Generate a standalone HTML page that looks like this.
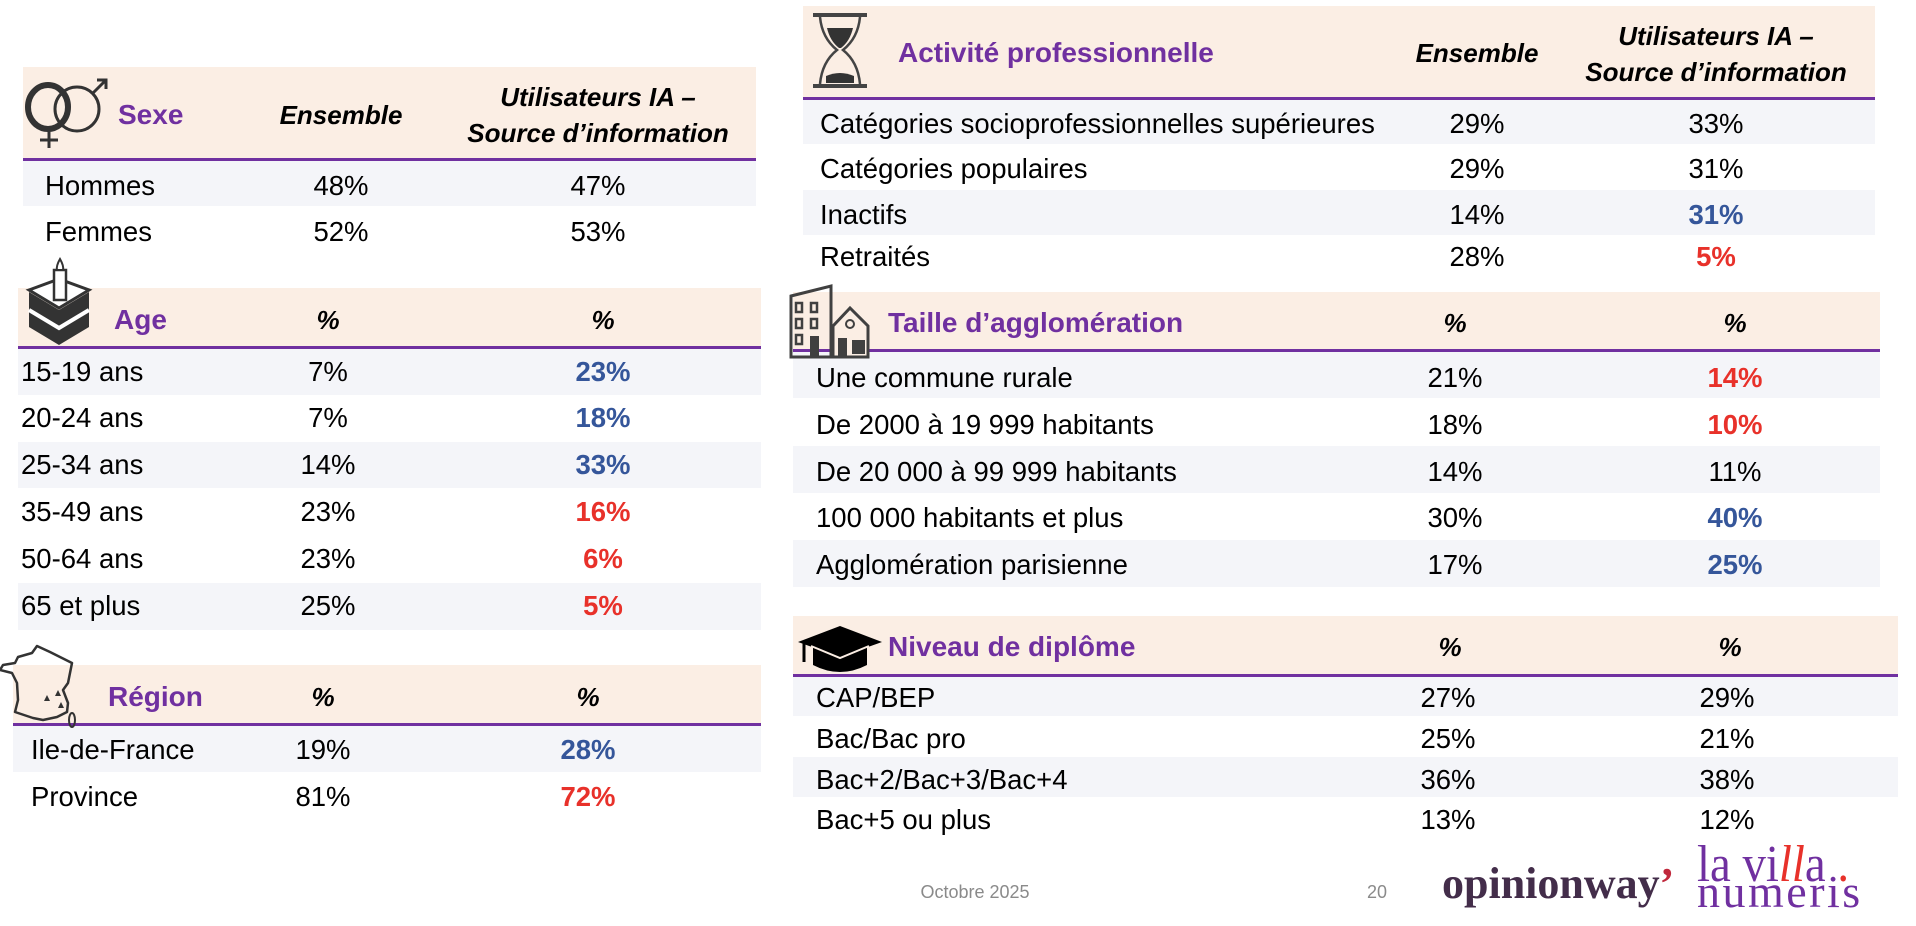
<!DOCTYPE html>
<html><head><meta charset="utf-8">
<style>
html,body{margin:0;padding:0;background:#fff;}
body{width:1916px;height:926px;position:relative;overflow:hidden;font-family:"Liberation Sans",Arial,sans-serif;}
.bg{position:absolute;background:#fbeee4;}
.ln{position:absolute;background:#7030a0;height:3px;}
.st{position:absolute;background:#f4f5f9;}
.t{position:absolute;font-size:27.5px;line-height:40px;height:40px;white-space:nowrap;color:#000;}
.c{width:200px;text-align:center;}
.w{width:400px;text-align:center;}
.h{font-weight:bold;color:#7030a0;font-size:28px;}
.ch{font-weight:bold;font-style:italic;font-size:26px;}
.bl{color:#35569a;font-weight:bold;}
.rd{color:#e8312a;font-weight:bold;}
</style></head><body>

<!-- LEFT: Sexe -->
<div class="bg" style="left:23px;top:67px;width:733px;height:92px"></div>
<div class="ln" style="left:23px;top:158px;width:733px"></div>
<div class="st" style="left:23px;top:161px;width:733px;height:45px"></div>

<!-- Age -->
<div class="bg" style="left:18px;top:288px;width:743px;height:59px"></div>
<div class="ln" style="left:18px;top:346px;width:743px"></div>
<div class="st" style="left:18px;top:349px;width:743px;height:46px"></div>
<div class="st" style="left:18px;top:442px;width:743px;height:46px"></div>
<div class="st" style="left:18px;top:583px;width:743px;height:47px"></div>

<!-- Region -->
<div class="bg" style="left:13px;top:665px;width:748px;height:59px"></div>
<div class="ln" style="left:13px;top:723px;width:748px"></div>
<div class="st" style="left:13px;top:726px;width:748px;height:46px"></div>

<!-- RIGHT: Activité -->
<div class="bg" style="left:803px;top:6px;width:1072px;height:92px"></div>
<div class="ln" style="left:803px;top:97px;width:1072px"></div>
<div class="st" style="left:803px;top:100px;width:1072px;height:44px"></div>
<div class="st" style="left:803px;top:190px;width:1072px;height:45px"></div>

<!-- Taille -->
<div class="bg" style="left:793px;top:292px;width:1087px;height:58px"></div>
<div class="ln" style="left:793px;top:349px;width:1087px"></div>
<div class="st" style="left:793px;top:352px;width:1087px;height:46px"></div>
<div class="st" style="left:793px;top:446px;width:1087px;height:47px"></div>
<div class="st" style="left:793px;top:540px;width:1087px;height:47px"></div>

<!-- Niveau -->
<div class="bg" style="left:793px;top:616px;width:1105px;height:58px"></div>
<div class="ln" style="left:793px;top:674px;width:1105px"></div>
<div class="st" style="left:793px;top:677px;width:1105px;height:39px"></div>
<div class="st" style="left:793px;top:757px;width:1105px;height:40px"></div>

<!-- ICONS -->
<svg style="position:absolute;left:0;top:0" width="1916" height="926" viewBox="0 0 1916 926">
  <!-- sexe -->
  <ellipse cx="48" cy="107" rx="20" ry="22" fill="none" stroke="#333" stroke-width="6"/>
  <line x1="49" y1="130" x2="49" y2="148" stroke="#333" stroke-width="3"/>
  <line x1="40" y1="140" x2="58" y2="140" stroke="#333" stroke-width="3"/>
  <circle cx="77" cy="109" r="22" fill="none" stroke="#333" stroke-width="3"/>
  <line x1="93" y1="93" x2="105" y2="81" stroke="#333" stroke-width="3"/>
  <polyline points="97,80 106,80 106,89" fill="none" stroke="#333" stroke-width="3"/>
  <!-- cake -->
  <polygon points="29,290 59,279 89,290 59,308" fill="#fff" stroke="#333" stroke-width="3"/>
  <polygon points="29,292 59,310 89,292 89,327 59,345 29,327" fill="#333"/>
  <polyline points="29,310 59,328 89,310" fill="none" stroke="#fff" stroke-width="4"/>
  <rect x="54" y="270" width="12" height="30" fill="#fff" stroke="#333" stroke-width="2.5"/>
  <path d="M60,259 Q56,266 57,270 L63,270 Q64,266 60,259Z" fill="#fff" stroke="#333" stroke-width="2"/>
  <!-- france -->
  <path d="M37,646 L50,652 L72,663 L68,683 L63,690 L68,703 L67,712 L57,717 L43,720 L33,718 L15,712 L18,700 L17,683 L12,673 L0,670 L3,665 L15,663 L18,657 L32,653 Z" fill="none" stroke="#333" stroke-width="2.5" stroke-linejoin="round"/>
  <ellipse cx="72" cy="720" rx="3" ry="7" fill="none" stroke="#333" stroke-width="2"/>
  <polygon points="47,695 44,701 50,701" fill="#333"/>
  <polygon points="58,690 55,696 61,696" fill="#333"/>
  <polygon points="61,702 58,708 64,708" fill="#333"/>
  <!-- hourglass -->
  <rect x="813" y="13" width="54" height="4" fill="#444"/>
  <rect x="813" y="84" width="54" height="4" fill="#444"/>
  <path d="M820,17 Q822,38 837,50 Q822,62 820,84" fill="none" stroke="#444" stroke-width="2.5"/>
  <path d="M860,17 Q858,38 843,50 Q858,62 860,84" fill="none" stroke="#444" stroke-width="2.5"/>
  <path d="M827,28 Q830,41 839,48 L841,48 Q850,41 853,28 Z" fill="#333"/>
  <path d="M826,76 Q840,70 854,76 L854,83 L826,83 Z" fill="#333"/>
  <!-- building -->
  <path d="M791,296 L831,286 L831,357 L791,357 Z" fill="none" stroke="#404040" stroke-width="3"/>
  <rect x="796" y="303" width="6" height="9" fill="none" stroke="#404040" stroke-width="2.5"/>
  <rect x="811" y="303" width="6" height="9" fill="none" stroke="#404040" stroke-width="2.5"/>
  <rect x="796" y="319" width="6" height="9" fill="none" stroke="#404040" stroke-width="2.5"/>
  <rect x="811" y="319" width="6" height="9" fill="none" stroke="#404040" stroke-width="2.5"/>
  <rect x="796" y="335" width="6" height="9" fill="none" stroke="#404040" stroke-width="2.5"/>
  <rect x="810" y="336" width="9" height="21" fill="#404040"/>
  <path d="M833,326 L850,308 L868,326 L868,357 L833,357 Z" fill="#fbeee4" stroke="#404040" stroke-width="3"/>
  <circle cx="850" cy="324" r="4" fill="none" stroke="#404040" stroke-width="2"/>
  <rect x="838" y="338" width="9" height="19" fill="#404040"/>
  <rect x="852" y="340" width="13" height="14" fill="#404040"/>
  <!-- mortarboard -->
  <path d="M813,645 L840,656 L867,645 L867,665 Q840,679 813,665 Z" fill="#000"/>
  <polygon points="798,642 840,626 882,642 840,657" fill="#000"/>
  <polyline points="811,646 840,658 869,646" fill="none" stroke="#fbeee4" stroke-width="2"/>
  <line x1="804" y1="642" x2="804" y2="662" stroke="#000" stroke-width="3"/>
</svg>

<!-- TEXT LEFT: Sexe -->
<div class="t h" style="left:118px;top:95px">Sexe</div>
<div class="t ch c" style="left:241px;top:95px">Ensemble</div>
<div class="t ch w" style="left:398px;top:77px">Utilisateurs IA –</div>
<div class="t ch w" style="left:398px;top:113px">Source d’information</div>
<div class="t" style="left:45px;top:166px">Hommes</div>
<div class="t c" style="left:241px;top:166px">48%</div>
<div class="t c" style="left:498px;top:166px">47%</div>
<div class="t" style="left:45px;top:212px">Femmes</div>
<div class="t c" style="left:241px;top:212px">52%</div>
<div class="t c" style="left:498px;top:212px">53%</div>

<!-- Age -->
<div class="t h" style="left:114px;top:300px">Age</div>
<div class="t ch c" style="left:228px;top:300px">%</div>
<div class="t ch c" style="left:503px;top:300px">%</div>
<div class="t" style="left:21px;top:352px">15-19 ans</div>
<div class="t c" style="left:228px;top:352px">7%</div>
<div class="t c bl" style="left:503px;top:352px">23%</div>
<div class="t" style="left:21px;top:398px">20-24 ans</div>
<div class="t c" style="left:228px;top:398px">7%</div>
<div class="t c bl" style="left:503px;top:398px">18%</div>
<div class="t" style="left:21px;top:445px">25-34 ans</div>
<div class="t c" style="left:228px;top:445px">14%</div>
<div class="t c bl" style="left:503px;top:445px">33%</div>
<div class="t" style="left:21px;top:492px">35-49 ans</div>
<div class="t c" style="left:228px;top:492px">23%</div>
<div class="t c rd" style="left:503px;top:492px">16%</div>
<div class="t" style="left:21px;top:539px">50-64 ans</div>
<div class="t c" style="left:228px;top:539px">23%</div>
<div class="t c rd" style="left:503px;top:539px">6%</div>
<div class="t" style="left:21px;top:586px">65 et plus</div>
<div class="t c" style="left:228px;top:586px">25%</div>
<div class="t c rd" style="left:503px;top:586px">5%</div>

<!-- Region -->
<div class="t h" style="left:108px;top:677px">Région</div>
<div class="t ch c" style="left:223px;top:677px">%</div>
<div class="t ch c" style="left:488px;top:677px">%</div>
<div class="t" style="left:31px;top:730px">Ile-de-France</div>
<div class="t c" style="left:223px;top:730px">19%</div>
<div class="t c bl" style="left:488px;top:730px">28%</div>
<div class="t" style="left:31px;top:777px">Province</div>
<div class="t c" style="left:223px;top:777px">81%</div>
<div class="t c rd" style="left:488px;top:777px">72%</div>

<!-- RIGHT: Activité -->
<div class="t h" style="left:898px;top:33px">Activité professionnelle</div>
<div class="t ch c" style="left:1377px;top:33px">Ensemble</div>
<div class="t ch w" style="left:1516px;top:16px">Utilisateurs IA –</div>
<div class="t ch w" style="left:1516px;top:52px">Source d’information</div>
<div class="t" style="left:820px;top:104px">Catégories socioprofessionnelles supérieures</div>
<div class="t c" style="left:1377px;top:104px">29%</div>
<div class="t c" style="left:1616px;top:104px">33%</div>
<div class="t" style="left:820px;top:149px">Catégories populaires</div>
<div class="t c" style="left:1377px;top:149px">29%</div>
<div class="t c" style="left:1616px;top:149px">31%</div>
<div class="t" style="left:820px;top:195px">Inactifs</div>
<div class="t c" style="left:1377px;top:195px">14%</div>
<div class="t c bl" style="left:1616px;top:195px">31%</div>
<div class="t" style="left:820px;top:237px">Retraités</div>
<div class="t c" style="left:1377px;top:237px">28%</div>
<div class="t c rd" style="left:1616px;top:237px">5%</div>

<!-- Taille -->
<div class="t h" style="left:888px;top:303px">Taille d’agglomération</div>
<div class="t ch c" style="left:1355px;top:303px">%</div>
<div class="t ch c" style="left:1635px;top:303px">%</div>
<div class="t" style="left:816px;top:358px">Une commune rurale</div>
<div class="t c" style="left:1355px;top:358px">21%</div>
<div class="t c rd" style="left:1635px;top:358px">14%</div>
<div class="t" style="left:816px;top:405px">De 2000 à 19 999 habitants</div>
<div class="t c" style="left:1355px;top:405px">18%</div>
<div class="t c rd" style="left:1635px;top:405px">10%</div>
<div class="t" style="left:816px;top:452px">De 20 000 à 99 999 habitants</div>
<div class="t c" style="left:1355px;top:452px">14%</div>
<div class="t c" style="left:1635px;top:452px">11%</div>
<div class="t" style="left:816px;top:498px">100 000 habitants et plus</div>
<div class="t c" style="left:1355px;top:498px">30%</div>
<div class="t c bl" style="left:1635px;top:498px">40%</div>
<div class="t" style="left:816px;top:545px">Agglomération parisienne</div>
<div class="t c" style="left:1355px;top:545px">17%</div>
<div class="t c bl" style="left:1635px;top:545px">25%</div>

<!-- Niveau -->
<div class="t h" style="left:888px;top:627px">Niveau de diplôme</div>
<div class="t ch c" style="left:1350px;top:627px">%</div>
<div class="t ch c" style="left:1630px;top:627px">%</div>
<div class="t" style="left:816px;top:678px">CAP/BEP</div>
<div class="t c" style="left:1348px;top:678px">27%</div>
<div class="t c" style="left:1627px;top:678px">29%</div>
<div class="t" style="left:816px;top:719px">Bac/Bac pro</div>
<div class="t c" style="left:1348px;top:719px">25%</div>
<div class="t c" style="left:1627px;top:719px">21%</div>
<div class="t" style="left:816px;top:760px">Bac+2/Bac+3/Bac+4</div>
<div class="t c" style="left:1348px;top:760px">36%</div>
<div class="t c" style="left:1627px;top:760px">38%</div>
<div class="t" style="left:816px;top:800px">Bac+5 ou plus</div>
<div class="t c" style="left:1348px;top:800px">13%</div>
<div class="t c" style="left:1627px;top:800px">12%</div>

<!-- Footer -->
<div style="position:absolute;left:875px;top:882px;width:200px;text-align:center;font-size:18px;line-height:20px;color:#8a8a8a;white-space:nowrap">Octobre 2025</div>
<div style="position:absolute;left:1357px;top:882px;width:40px;text-align:center;font-size:18px;line-height:20px;color:#8a8a8a">20</div>

<div style="position:absolute;left:1442px;top:862px;font-family:'Liberation Serif',serif;font-weight:bold;font-size:44px;line-height:44px;color:#432d4a;white-space:nowrap">opinionway<span style="color:#c0283c">’</span></div>
<div style="position:absolute;left:1697px;top:839px;font-family:'Liberation Serif',serif;font-size:52px;line-height:52px;color:#7030a0;white-space:nowrap;transform:scaleX(0.9);transform-origin:left top">la vi<span style="color:#e8312a;font-style:italic">ll</span>a<span style="color:#e8312a"> .</span></div>
<div style="position:absolute;left:1697px;top:869px;font-family:'Liberation Serif',serif;font-size:46px;line-height:46px;color:#7030a0;white-space:nowrap;letter-spacing:2.5px">numeris</div>

</body></html>
